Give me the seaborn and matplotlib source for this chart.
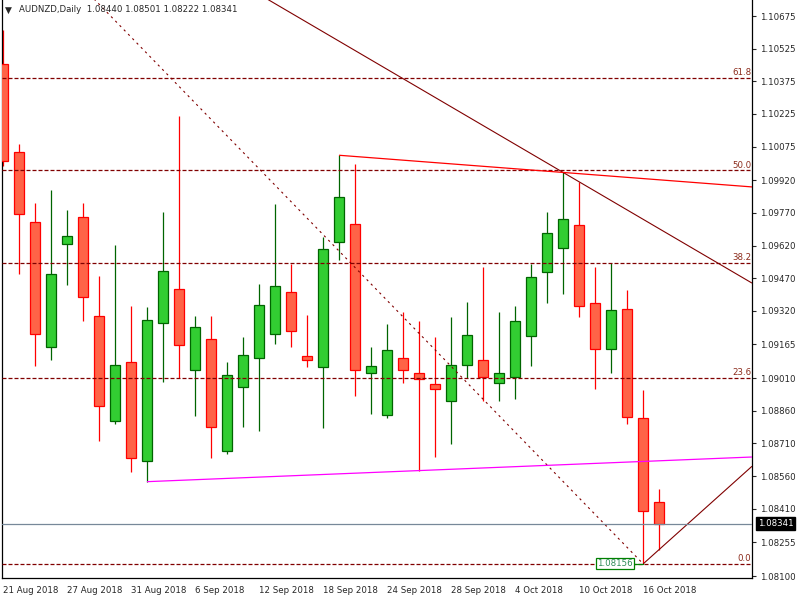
import numpy as np
import pandas as pd
import seaborn as sns
import matplotlib.pyplot as plt

# daily candles, AUDNZD
dates = ["21 Aug 2018", "22 Aug 2018", "23 Aug 2018", "24 Aug 2018",
         "27 Aug 2018", "28 Aug 2018", "29 Aug 2018", "30 Aug 2018",
         "31 Aug 2018", "3 Sep 2018", "4 Sep 2018", "5 Sep 2018",
         "6 Sep 2018", "7 Sep 2018", "10 Sep 2018", "11 Sep 2018",
         "12 Sep 2018", "13 Sep 2018", "14 Sep 2018", "17 Sep 2018",
         "18 Sep 2018", "19 Sep 2018", "20 Sep 2018", "21 Sep 2018",
         "24 Sep 2018", "25 Sep 2018", "26 Sep 2018", "27 Sep 2018",
         "28 Sep 2018", "1 Oct 2018", "2 Oct 2018", "3 Oct 2018",
         "4 Oct 2018", "5 Oct 2018", "8 Oct 2018", "9 Oct 2018",
         "10 Oct 2018", "11 Oct 2018", "12 Oct 2018", "15 Oct 2018",
         "16 Oct 2018", "17 Oct 2018"]
opens = [1.10455, 1.10050, 1.09728, 1.09155, 1.09628, 1.09751, 1.09296, 1.08813,
         1.09084, 1.08629, 1.09265, 1.09421, 1.09048, 1.09191, 1.08675, 1.08971,
         1.09104, 1.09214, 1.09406, 1.09112, 1.09063, 1.09637, 1.09720, 1.09035,
         1.08841, 1.09104, 1.09035, 1.08984, 1.08905, 1.09071, 1.09094, 1.08989,
         1.09017, 1.09204, 1.09500, 1.09610, 1.09715, 1.09357, 1.09145, 1.09329,
         1.08828, 1.08440]
highs = [1.10610, 1.10087, 1.09816, 1.09876, 1.09785, 1.09816, 1.09481, 1.09624,
         1.09343, 1.09335, 1.09775, 1.10214, 1.09298, 1.09298, 1.09086, 1.09197,
         1.09445, 1.09813, 1.09536, 1.09302, 1.09660, 1.10035, 1.09997, 1.09155,
         1.09261, 1.09312, 1.09275, 1.09201, 1.09293, 1.09358, 1.09523, 1.09316,
         1.09343, 1.09536, 1.09775, 1.09956, 1.09912, 1.09519, 1.09541, 1.09417,
         1.08957, 1.08501]
lows = [1.09986, 1.09488, 1.09066, 1.09092, 1.09437, 1.09271, 1.08719, 1.08798,
        1.08578, 1.08534, 1.08992, 1.09012, 1.08834, 1.08642, 1.08662, 1.08787,
        1.08765, 1.09166, 1.09153, 1.09061, 1.08780, 1.09552, 1.08926, 1.08844,
        1.08826, 1.08987, 1.08585, 1.08647, 1.08706, 1.09012, 1.08905, 1.08905,
        1.08913, 1.09066, 1.09355, 1.09396, 1.09291, 1.08959, 1.09033, 1.08798,
        1.08156, 1.08222]
closes = [1.10009, 1.09766, 1.09214, 1.09490, 1.09664, 1.09385, 1.08882, 1.09071,
          1.08644, 1.09278, 1.09503, 1.09163, 1.09247, 1.08787, 1.09025, 1.09117,
          1.09347, 1.09434, 1.09227, 1.09094, 1.09605, 1.09844, 1.09048, 1.09068,
          1.09140, 1.09048, 1.09007, 1.08961, 1.09071, 1.09209, 1.09017, 1.09035,
          1.09273, 1.09477, 1.09677, 1.09743, 1.09342, 1.09145, 1.09324, 1.08833,
          1.08399, 1.08341]

# fibonacci retracement: anchor high (off chart, left) and the 16 Oct low
fib_high_idx, fib_high = -7.8, 1.11775
fib_low_idx, fib_low = 40, 1.08156
fib_levels = [0.0, 23.6, 38.2, 50.0, 61.8]

# trend lines, (candle index, price) anchor pairs
down_trend = [(10, 1.11034), (35, 1.09956)]
top_line = [(21, 1.10035), (35, 1.09956)]
support_line = [(9, 1.08534), (26, 1.08585)]
rebound_line = [(40, 1.08156), (41, 1.08222)]

bid = 1.08341
y_ticks = [1.10675, 1.10525, 1.10375, 1.10225, 1.10075, 1.09920, 1.09770,
           1.09620, 1.09470, 1.09320, 1.09165, 1.09010, 1.08860, 1.08710,
           1.08560, 1.08410, 1.08255, 1.08100]

sns.set_style("white")
plt.rcParams['font.family'] = ['DejaVu Sans']
fs = 6.2

o = np.array(opens)
h = np.array(highs)
l = np.array(lows)
c = np.array(closes)
x = np.arange(len(dates))
up = c >= o

x_left, x_right = -0.06, 46.8
y_bot, y_top = 1.08091, 1.10749

fig = plt.figure(figsize=(8, 6), dpi=100)
ax = fig.add_axes([2 / 800, 22 / 600, 750 / 800, 578 / 600])

red_edge, red_fill = '#ff0000', '#ff6347'
grn_edge, grn_fill = '#006400', '#32cd32'
dark = '#800000'

ax.vlines(x, l, h, colors=np.where(up, grn_edge, red_edge), lw=0.9, zorder=2)
body_lo = np.minimum(o, c)
body_h = np.maximum(np.abs(c - o), 0.00003)
ax.bar(x, body_h, bottom=body_lo, width=0.6,
       color=np.where(up, grn_fill, red_fill),
       edgecolor=np.where(up, grn_edge, red_edge), linewidth=0.9, zorder=3)

# fibonacci
rng = fib_high - fib_low
for lv in fib_levels:
    p = fib_low + rng * lv / 100
    ax.plot([x_left, x_right], [p, p], color=dark, lw=0.9,
            dashes=(3.2, 1.6), zorder=4)
    ax.text(x_right - 0.05, p + 0.00004, f"{lv:.1f}", ha='right', va='bottom',
            fontsize=fs, color='#8b2a1a', zorder=5)
ax.plot([fib_high_idx, fib_low_idx], [fib_high, fib_low], color=dark, lw=0.8,
        dashes=(2, 3.5), zorder=4)


def ray(pts, color, lw=0.9):
    (x0, y0), (x1, y1) = pts
    k = (y1 - y0) / (x1 - x0)
    ax.plot([x0, x_right], [y0, y0 + k * (x_right - x0)], color=color, lw=lw,
            zorder=4, solid_capstyle='butt')


ray(down_trend, dark, 0.8)
ray(top_line, '#ff0000', 0.9)
ray(support_line, '#ff00ff', 0.9)
ray(rebound_line, dark, 0.8)

# low marker label
ax.plot([fib_low_idx - 0.6, fib_low_idx], [fib_low, fib_low], color='#008000',
        lw=0.9, zorder=5)
ax.text(fib_low_idx - 0.65, fib_low, "1.08156", ha='right', va='center',
        fontsize=fs, color='#2e8b57', zorder=6,
        bbox=dict(boxstyle='square,pad=0.12', fc='white', ec='#008000', lw=0.9))

# bid line
ax.axhline(bid, color='#778899', lw=0.9, zorder=4)
ax.text(1.008, bid, f"{bid:.5f}", transform=ax.get_yaxis_transform(),
        ha='left', va='center', fontsize=fs, color='white', zorder=6,
        bbox=dict(boxstyle='square,pad=0.2', fc='black', ec='black'))

ax.set_xlim(x_left, x_right)
ax.set_ylim(y_bot, y_top)

ax.yaxis.tick_right()
ax.set_yticks(y_ticks)
ax.set_yticklabels([f"{v:.5f}" for v in y_ticks], fontsize=fs)
ax.tick_params(axis='y', direction='out', length=3, width=0.8, pad=3,
               right=True, left=False)

tick_idx = x[::4]
ax.set_xticks(tick_idx)
ax.set_xticklabels([dates[i] for i in tick_idx], fontsize=fs, ha='left')
ax.tick_params(axis='x', direction='out', length=4, width=0.8, pad=2)

for side in ['left', 'right', 'bottom']:
    ax.spines[side].set_color('black')
    ax.spines[side].set_linewidth(0.9)
ax.spines['top'].set_visible(False)

fig.text(5 / 800, 1 - 10 / 600, "\u25bc", fontsize=6.5, va='center', ha='left')
fig.text(19 / 800, 1 - 10 / 600,
         "AUDNZD,Daily  1.08440 1.08501 1.08222 1.08341",
         fontsize=fs, va='center', ha='left')

fig.savefig("out.png", dpi=100, facecolor='white')
